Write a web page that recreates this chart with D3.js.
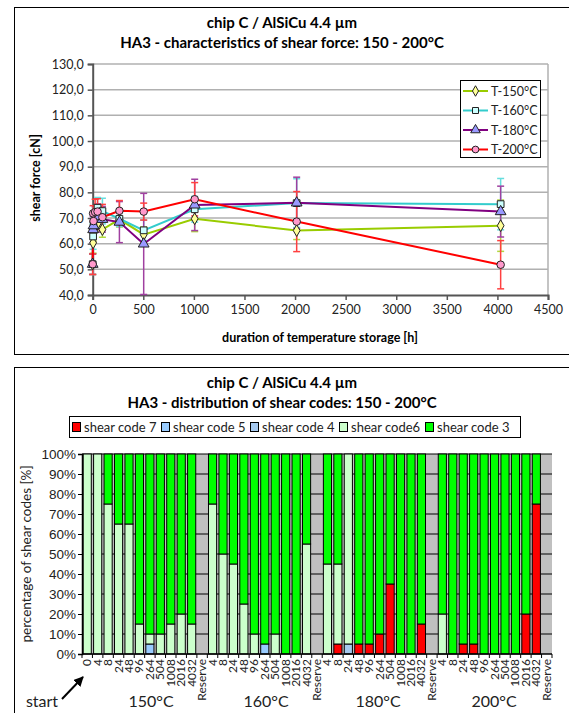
<!DOCTYPE html>
<html><head><meta charset="utf-8">
<script src="https://cdn.jsdelivr.net/npm/d3@7"></script>
<style>body{margin:0;background:#fff;} svg{display:block;font-family:Lato,"Open Sans",sans-serif;}</style>
</head><body>
<svg id="c" width="569" height="713"></svg>
<script>
// ---------- top chart data ----------
const times = [0,4,8,24,48,96,264,504,1008,2016,4032];
const t150 = [52.0,60.3,64.0,67.5,67.8,65.5,69.5,63.5,69.7,65.1,67.0];
const t160 = [52.0,62.8,66.5,70.0,74.0,72.7,69.7,65.2,73.4,75.8,75.4];
const t180 = [52.0,65.5,67.0,69.5,70.5,69.5,68.4,59.9,75.1,75.9,72.5];
const t200 = [52.0,71.8,68.8,72.3,72.5,70.3,72.8,72.5,77.3,68.6,51.8];
const e150 = [4,4,3,3,3,3,3,3,5,3.5,10];
const e160 = [4,5,4,4,4,5,3,4,5,9.5,10];
const e180 = [4,5,5,5,5,5,8,19.7,10,10,9.9];
const e200 = [4,3,4,5,5,5,4,3.3,6.5,11.7,9.4];
const seriesNames = ["T-150°C","T-160°C","T-180°C","T-200°C"];
const yTicksTop = [40,50,60,70,80,90,100,110,120,130];
const xTicksTop = [0,500,1000,1500,2000,2500,3000,3500,4000,4500];

// ---------- bottom chart data ----------
const catLabels = ["0","4","8","24","48","96","264","504","1008","2016","4032","Reserve",
  "4","8","24","48","96","264","504","1008","2016","4032","Reserve",
  "4","8","24","48","96","264","504","1008","2016","4032","Reserve",
  "4","8","24","48","96","264","504","1008","2016","4032","Reserve"];
const code7 = [0,0,0,0,0,0,0,0,0,0,0,0, 0,0,0,0,0,0,0,0,0,0,0, 0,5,0,5,5,10,35,0,0,15,0, 0,0,5,5,0,0,0,0,20,75,0];
const code5 = [0,0,0,0,0,0,5,0,0,0,0,0, 0,0,0,0,0,5,0,0,0,0,0, 0,0,0,0,0,0,0,0,0,0,0, 0,0,0,0,0,0,0,0,0,0,0];
const code4 = [0,0,0,0,0,0,0,0,0,0,0,0, 0,0,0,0,0,0,0,0,0,0,0, 0,0,5,0,0,0,0,0,0,0,0, 0,0,0,0,0,0,0,0,0,0,0];
const code6 = [100,100,75,65,65,15,5,10,15,20,15,0, 75,50,45,25,10,0,10,0,0,55,0, 45,40,95,0,0,0,0,0,0,0,0, 20,0,0,0,0,0,0,0,0,0,0];
const code3 = [0,0,25,35,35,85,90,90,85,80,85,0, 25,50,55,75,90,95,90,100,100,45,0, 55,55,0,95,95,90,65,100,100,85,0, 80,100,95,95,100,100,100,100,80,25,0];
const codeNames = ["shear code 7","shear code 5","shear code 4","shear code6","shear code 3"];
const yTicksBot = [0,10,20,30,40,50,60,70,80,90,100];
const groupLabels = ["start","150°C","160°C","180°C","200°C"];

const svg = d3.select("#c");

// ================= TOP CHART =================
svg.append("rect").attr("x",14.5).attr("y",7.5).attr("width",570).attr("height",347)
  .attr("fill","#fff").attr("stroke","#000").attr("stroke-width",1);
svg.append("text").attr("x",282).attr("y",28).attr("text-anchor","middle")
  .attr("font-weight","bold").attr("font-size",15).text("chip C / AlSiCu 4.4 µm");
svg.append("text").attr("x",282).attr("y",48).attr("text-anchor","middle")
  .attr("font-weight","bold").attr("font-size",15).text("HA3 - characteristics of shear force: 150 - 200°C");

const xT = d3.scaleLinear().domain([0,4500]).range([92.7,548]);
const yT = d3.scaleLinear().domain([40,130]).range([295,64]);

const gT = svg.append("g");
gT.selectAll("line.grid").data(yTicksTop.slice(1)).join("line")
  .attr("x1",xT(0)).attr("x2",xT(4500)).attr("y1",d=>yT(d)).attr("y2",d=>yT(d))
  .attr("stroke","#b0b0b0").attr("stroke-width",1.5);
gT.append("line").attr("x1",xT(4500)).attr("x2",xT(4500)).attr("y1",yT(130)).attr("y2",yT(40))
  .attr("stroke","#b0b0b0").attr("stroke-width",1.5);
const axY = d3.axisLeft(yT).tickValues(yTicksTop).tickSize(5).tickFormat(d=>d3.format(".1f")(d).replace(".",","));
const axX = d3.axisBottom(xT).tickValues(xTicksTop).tickSize(5).tickFormat(d3.format("d"));
const gy = gT.append("g").attr("transform",`translate(${xT(0)},0)`).call(axY);
const gx = gT.append("g").attr("transform",`translate(0,${yT(40)})`).call(axX);
[gy,gx].forEach(g=>{
  g.select(".domain").attr("stroke","#555").attr("stroke-width",2);
  g.selectAll(".tick line").attr("stroke","#555").attr("stroke-width",1.5);
  g.selectAll(".tick text").attr("font-size",12.5).attr("fill","#222").attr("font-family","Lato,sans-serif");
});
gy.selectAll(".tick text").attr("x",-9);
gx.selectAll(".tick text").attr("y",10);
gT.append("text").attr("transform","translate(40,178) rotate(-90)").attr("text-anchor","middle")
  .attr("font-weight","bold").attr("font-size",12.5).text("shear force [cN]");
gT.append("text").attr("x",320).attr("y",342).attr("text-anchor","middle")
  .attr("font-weight","bold").attr("font-size",12.5).text("duration of temperature storage [h]");

const lineColors = ["#99cc00","#33cccc","#800080","#ff0000"];
const fillColors = ["#ffff99","#ccffff","#9999ff","#ff99cc"];
const errColors = ["#b0d840","#66dddd","#a040a0","#ff4040"];
const shapes = [d3.symbolDiamond, d3.symbolSquare, d3.symbolTriangle, d3.symbolCircle];
const sizes = [40,45,50,45];
const vals = [t150,t160,t180,t200];
const errs = [e150,e160,e180,e200];

vals.forEach((v,si)=>{
  const g = gT.append("g").attr("stroke",errColors[si]).attr("stroke-width",1.5);
  times.forEach((t,i)=>{
    const x = xT(t);
    const lo = Math.max(40, v[i]-errs[si][i]), hi = Math.min(130, v[i]+errs[si][i]);
    g.append("line").attr("x1",x).attr("x2",x).attr("y1",yT(lo)).attr("y2",yT(hi));
    [lo,hi].forEach(e=>{ if(e>40) g.append("line").attr("x1",x-3.5).attr("x2",x+3.5).attr("y1",yT(e)).attr("y2",yT(e)); });
  });
});
const line = d3.line().x((d,i)=>xT(times[i])).y(d=>yT(d));
vals.forEach((v,si)=>{
  gT.append("path").datum(v).attr("d",line).attr("fill","none")
    .attr("stroke",lineColors[si]).attr("stroke-width",2);
});
vals.forEach((v,si)=>{
  gT.selectAll(null).data(v).join("path")
    .attr("transform",(d,i)=>`translate(${xT(times[i])},${yT(d)})`)
    .attr("d",d3.symbol().type(shapes[si]).size(sizes[si]))
    .attr("fill",fillColors[si]).attr("stroke","#222").attr("stroke-width",1);
});
const lg = gT.append("g");
lg.append("rect").attr("x",460.5).attr("y",80.5).attr("width",80).attr("height",77)
  .attr("fill","#fff").attr("stroke","#000");
seriesNames.forEach((n,i)=>{
  const y = 91 + i*19.5;
  lg.append("line").attr("x1",463).attr("x2",488).attr("y1",y).attr("y2",y)
    .attr("stroke",lineColors[i]).attr("stroke-width",2);
  lg.append("path").attr("transform",`translate(475.5,${y})`)
    .attr("d",d3.symbol().type(shapes[i]).size(sizes[i]*0.8))
    .attr("fill",fillColors[i]).attr("stroke","#222");
  lg.append("text").attr("x",491).attr("y",y+4.5).attr("font-size",12.5).attr("fill","#222").text(n);
});

// ================= BOTTOM CHART =================
svg.append("rect").attr("x",14.5).attr("y",367.5).attr("width",570).attr("height",360)
  .attr("fill","#fff").attr("stroke","#000").attr("stroke-width",1);
svg.append("text").attr("x",282).attr("y",388).attr("text-anchor","middle")
  .attr("font-weight","bold").attr("font-size",15).text("chip C / AlSiCu 4.4 µm");
svg.append("text").attr("x",282).attr("y",408).attr("text-anchor","middle")
  .attr("font-weight","bold").attr("font-size",15).text("HA3 - distribution of shear codes: 150 - 200°C");

const idx = d3.range(catLabels.length);
const xB = d3.scaleBand().domain(idx).range([82,552]).paddingInner(0.22).paddingOuter(0.11);
const yB = d3.scaleLinear().domain([0,100]).range([654,454]);
const gB = svg.append("g");
gB.append("rect").attr("x",82).attr("y",yB(100)).attr("width",552-82).attr("height",yB(0)-yB(100)).attr("fill","#c0c0c0");
gB.selectAll("line.g").data(yTicksBot.slice(1)).join("line")
  .attr("x1",82).attr("x2",552).attr("y1",d=>yB(d)).attr("y2",d=>yB(d))
  .attr("stroke","#000").attr("stroke-width",1);

const codeColors = ["#ff0000","#99ccff","#a6caf0","#ccffcc","#00ff00"];
const rows = idx.map(i=>({i, c7:code7[i], c5:code5[i], c4:code4[i], c6:code6[i], c3:code3[i]}));
const stack = d3.stack().keys(["c7","c5","c4","c6","c3"])(rows);
stack.forEach((layer,k)=>{
  gB.selectAll(null).data(layer.filter(d=>d[1]-d[0]>0)).join("rect")
    .attr("x",d=>xB(d.data.i)).attr("width",xB.bandwidth())
    .attr("y",d=>yB(d[1])).attr("height",d=>yB(d[0])-yB(d[1]))
    .attr("fill",codeColors[k]).attr("stroke","#000").attr("stroke-width",1);
});
const axYB = d3.axisLeft(yB).tickValues(yTicksBot).tickSize(4).tickFormat(d=>d+"%");
const gyb = gB.append("g").attr("transform","translate(82,0)").call(axYB);
gyb.select(".domain").attr("stroke","#000").attr("stroke-width",1.5);
gyb.selectAll(".tick text").attr("font-size",13.5).attr("fill","#222").attr("x",-6);
gB.append("line").attr("x1",82).attr("x2",552).attr("y1",yB(0)).attr("y2",yB(0)).attr("stroke","#000").attr("stroke-width",1.5);
gB.selectAll("line.xt").data(d3.range(catLabels.length+1)).join("line")
  .attr("x1",d=>82+d*(470/catLabels.length)).attr("x2",d=>82+d*(470/catLabels.length))
  .attr("y1",yB(0)).attr("y2",yB(0)+4).attr("stroke","#000");
gB.selectAll("text.xl").data(idx).join("text")
  .attr("transform",i=>`translate(${xB(i)+xB.bandwidth()/2+4},659) rotate(-90)`)
  .attr("text-anchor","end").attr("font-size",12).attr("fill","#222").text(i=>catLabels[i]);
gB.append("text").attr("transform","translate(31,554) rotate(-90)").attr("text-anchor","middle")
  .attr("font-size",13.5).attr("fill","#222").text("percentage of shear codes [%]");

const lgB = gB.append("g");
lgB.append("rect").attr("x",69.5).attr("y",416.5).attr("width",451).attr("height",21).attr("fill","#fff").attr("stroke","#000");
const legX = [72,161,250,339,425];
codeNames.forEach((n,i)=>{
  lgB.append("rect").attr("x",legX[i]+0.5).attr("y",422.5).attr("width",8).attr("height",9)
    .attr("fill",codeColors[i]).attr("stroke","#000");
  lgB.append("text").attr("x",legX[i]+12).attr("y",431.5).attr("font-size",13).attr("fill","#222").text(n);
});

const groupX = [42,151,266,378,494];
groupLabels.forEach((g,i)=>{
  svg.append("text").attr("x",groupX[i]).attr("y",707).attr("text-anchor","middle")
    .attr("font-size",16).attr("fill","#222").text(g);
});
svg.append("defs").append("marker").attr("id","ah").attr("viewBox","0 0 10 10").attr("refX",9).attr("refY",5)
  .attr("markerWidth",5).attr("markerHeight",5).attr("orient","auto")
  .append("path").attr("d","M0,0 L10,5 L0,10 Z").attr("fill","#000");
svg.append("line").attr("x1",62).attr("y1",699).attr("x2",83).attr("y2",677)
  .attr("stroke","#000").attr("stroke-width",2).attr("marker-end","url(#ah)");
</script>
</body></html>
